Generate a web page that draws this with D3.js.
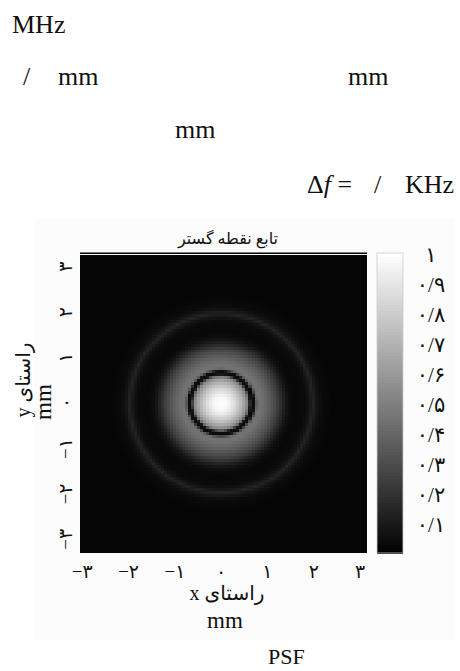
<!DOCTYPE html>
<html>
<head>
<meta charset="utf-8">
<script src="https://cdn.jsdelivr.net/npm/d3@7"></script>
<style>
  html, body { margin: 0; padding: 0; background: #fff; }
  svg { display: block; }
  text { font-family: "Liberation Serif", "DejaVu Sans", serif; fill: #111; }
</style>
</head>
<body>
<div id="psf_figure"></div>
<script>
// ---- data -----------------------------------------------------------------
const xTicks = [-3, -2, -1, 0, 1, 2, 3];
const yTicks = [-3, -2, -1, 0, 1, 2, 3];
const axisTickLabels = ['\u2212۳', '\u2212۲', '\u2212۱', '۰', '۱', '۲', '۳'];
const cbTicks = [0.1, 0.2, 0.3, 0.4, 0.5, 0.6, 0.7, 0.8, 0.9, 1];
const cbTickLabels = ['۰/۱', '۰/۲', '۰/۳', '۰/۴', '۰/۵', '۰/۶', '۰/۷', '۰/۸', '۰/۹', '۱'];

// radial profile of the PSF (radius in mm -> intensity)
const radius_mm = [0, 0.15, 0.3, 0.4, 0.5, 0.56, 0.6, 0.63, 0.66, 0.7, 0.73, 0.77, 0.85, 1.0, 1.1, 1.2, 1.3, 1.4, 1.5, 1.6, 1.8, 1.9, 1.97, 2.05, 2.15, 2.4, 5.0];
const intensity = [1.0, 0.97, 0.86, 0.76, 0.64, 0.54, 0.4, 0.1, 0.04, 0.05, 0.28, 0.44, 0.45, 0.38, 0.32, 0.25, 0.16, 0.08, 0.04, 0.03, 0.04, 0.08, 0.14, 0.08, 0.04, 0.02, 0.02];

// leftover text lines of the page (latin fragments only)
const pageTexts = [
  { t: 'MHz', x: 12, y: 33, s: 26 },
  { t: '/', x: 23, y: 85, s: 26 },
  { t: 'mm', x: 58, y: 85, s: 26 },
  { t: 'mm', x: 348, y: 85, s: 26 },
  { t: 'mm', x: 175, y: 138, s: 26 },
  { t: '/', x: 374, y: 193, s: 26 },
  { t: 'KHz', x: 405, y: 193, s: 26 },
  { t: 'PSF', x: 268, y: 664, s: 22 }
];

// ---- setup ----------------------------------------------------------------
const width = 460, height = 671;
const svg = d3.select('#psf_figure').append('svg')
  .attr('width', width).attr('height', height)
  .attr('viewBox', [0, 0, width, height]);

const plot = { left: 80, right: 367, top: 253, bottom: 553 };
const x = d3.scaleLinear().domain([-3.05, 3.15]).range([plot.left, plot.right]);
const y = d3.scaleLinear().domain([-3.3, 3.3]).range([plot.bottom, plot.top]);
const radial = d3.scaleLinear().domain(radius_mm).range(intensity).clamp(true);
const gray = d3.scaleLinear().domain([0, 1]).range(['#000', '#fff']).clamp(true);

// faint figure background
svg.append('rect').attr('x', 35).attr('y', 218).attr('width', 420).attr('height', 422).attr('fill', '#fcfcfc');

// ---- image ----------------------------------------------------------------
const step = 0.065;
const cells = [];
d3.range(-3.05, 3.15, step).forEach(cx => {
  d3.range(-3.3, 3.3, step).forEach(cy => {
    cells.push({ x: cx, y: cy, v: radial(Math.hypot(cx + step / 2, cy + step / 2)) });
  });
});

const img = svg.append('g').attr('id', 'psf').attr('shape-rendering', 'crispEdges');
img.selectAll('rect')
  .data(cells)
  .join('rect')
  .attr('x', d => x(d.x))
  .attr('y', d => y(d.y + step))
  .attr('width', d => Math.min(x(d.x + step), plot.right) - x(d.x) + 0.4)
  .attr('height', d => y(d.y) - Math.max(y(d.y + step), plot.top) + 0.4)
  .attr('fill', d => gray(d.v));

svg.append('line')
  .attr('x1', plot.left).attr('x2', plot.right)
  .attr('y1', plot.top - 0.5).attr('y2', plot.top - 0.5)
  .attr('stroke', '#999').attr('stroke-width', 0.8);

// ---- colorbar -------------------------------------------------------------
const cb = { left: 377, right: 403 };
const cbY = d3.scaleLinear().domain([0, 1]).range([plot.bottom, plot.top]);
const cbSteps = d3.range(0, 1, 0.01);
svg.append('g').attr('id', 'colorbar').attr('shape-rendering', 'crispEdges')
  .selectAll('rect')
  .data(cbSteps)
  .join('rect')
  .attr('x', cb.left)
  .attr('width', cb.right - cb.left)
  .attr('y', d => cbY(d + 0.01))
  .attr('height', d => cbY(d) - cbY(d + 0.01) + 0.5)
  .attr('fill', d => gray(d + 0.005));
svg.append('rect')
  .attr('x', cb.left).attr('y', plot.top)
  .attr('width', cb.right - cb.left).attr('height', plot.bottom - plot.top)
  .attr('fill', 'none').attr('stroke', '#ccc').attr('stroke-width', 0.8);

svg.append('g').attr('id', 'colorbar-labels')
  .selectAll('text')
  .data(cbTicks)
  .join('text')
  .attr('x', 431)
  .attr('y', d => cbY(d) + 9)
  .attr('text-anchor', 'middle')
  .attr('font-size', 21)
  .text((d, i) => cbTickLabels[i]);

// ---- axes labels ----------------------------------------------------------
svg.append('g').attr('id', 'x-ticks')
  .selectAll('text')
  .data(xTicks)
  .join('text')
  .attr('x', d => x(d))
  .attr('y', 578)
  .attr('text-anchor', 'middle')
  .attr('font-size', 19)
  .text((d, i) => axisTickLabels[i]);

svg.append('g').attr('id', 'y-ticks')
  .selectAll('text')
  .data(yTicks)
  .join('text')
  .attr('transform', d => `translate(72,${y(d)}) rotate(-90)`)
  .attr('text-anchor', 'middle')
  .attr('font-size', 19)
  .text((d, i) => axisTickLabels[i]);

svg.append('text')
  .attr('x', 228).attr('y', 244)
  .attr('text-anchor', 'middle')
  .attr('font-size', 16)
  .text('تابع نقطه گستر');

svg.append('text')
  .attr('x', 227).attr('y', 600)
  .attr('text-anchor', 'middle')
  .attr('font-size', 20)
  .text('\u2067راستای x\u2069');
svg.append('text')
  .attr('x', 225).attr('y', 628)
  .attr('text-anchor', 'middle')
  .attr('font-size', 23)
  .text('mm');

svg.append('text')
  .attr('transform', 'translate(30,380) rotate(-90)')
  .attr('text-anchor', 'middle')
  .attr('font-size', 20)
  .text('\u2067راستای y\u2069');
svg.append('text')
  .attr('transform', 'translate(51,402) rotate(-90)')
  .attr('text-anchor', 'middle')
  .attr('font-size', 23)
  .text('mm');

// ---- page text ------------------------------------------------------------
svg.append('g').attr('id', 'page-text')
  .selectAll('text')
  .data(pageTexts)
  .join('text')
  .attr('x', d => d.x)
  .attr('y', d => d.y)
  .attr('font-size', d => d.s)
  .text(d => d.t);

const delta = svg.append('text').attr('x', 307).attr('y', 193).attr('font-size', 26);
delta.append('tspan').text('Δ');
delta.append('tspan').attr('font-style', 'italic').text('f');
delta.append('tspan').text(' =');
</script>
</body>
</html>
